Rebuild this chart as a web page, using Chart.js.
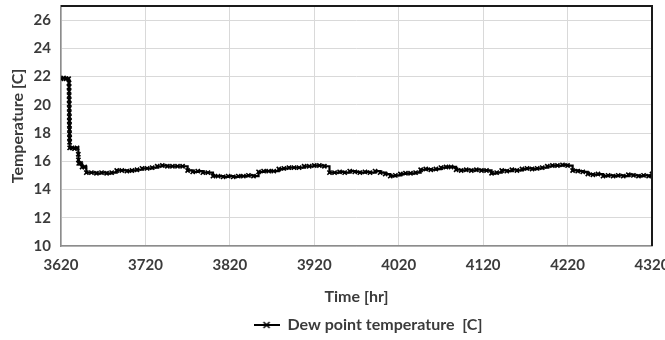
<!DOCTYPE html>
<html>
<head>
<meta charset="utf-8">
<script src="https://cdn.jsdelivr.net/npm/chart.js@4/dist/chart.umd.min.js"></script>
<style>
  html, body { margin: 0; padding: 0; background: #ffffff; }
  #wrap { width: 665px; height: 340px; }
</style>
</head>
<body>
<div id="wrap"><canvas id="dew-chart" width="665" height="340"></canvas></div>
<script>
// Time [hr] of each reading
const timeHours = [
    3620, 3623, 3626, 3629,
    3629.5, 3629.55, 3629.6, 3629.65, 3629.7, 3629.75, 3629.8, 3629.85,
    3629.9, 3629.95, 3630, 3630.05, 3630.1, 3630.15, 3630.2, 3630.25,
    3633, 3636, 3639, 3640.5, 3640.6, 3641, 3643, 3645, 3648,
    3650, 3656, 3662, 3668, 3674, 3680, 3686, 3692, 3698, 3704,
    3710, 3716, 3722, 3728, 3734, 3740, 3746, 3752, 3758, 3764,
    3770, 3776, 3782, 3788, 3794, 3800, 3806, 3812, 3818, 3824,
    3830, 3836, 3842, 3848, 3854, 3860, 3866, 3872, 3878, 3884,
    3890, 3896, 3902, 3908, 3914, 3920, 3926, 3932, 3938, 3944,
    3950, 3956, 3962, 3968, 3974, 3980, 3986, 3992, 3998, 4004,
    4010, 4016, 4022, 4028, 4034, 4040, 4046, 4052, 4058, 4064,
    4070, 4076, 4082, 4088, 4094, 4100, 4106, 4112, 4118, 4124,
    4130, 4136, 4142, 4148, 4154, 4160, 4166, 4172, 4178, 4184,
    4190, 4196, 4202, 4208, 4214, 4220, 4226, 4232, 4238, 4244,
    4250, 4256, 4262, 4268, 4274, 4280, 4286, 4292, 4298, 4304,
    4310, 4316, 4320
];

// Dew point temperature [C]
const dewPointTemp = [
    21.85, 21.9, 21.85, 21.85,
    21.55, 21.25, 20.95, 20.65, 20.35, 20.05, 19.75, 19.45,
    19.15, 18.85, 18.55, 18.25, 17.95, 17.65, 17.35, 16.95,
    16.95, 16.9, 16.95, 16.5, 16.1, 15.85, 15.85, 15.6, 15.6,
    15.2, 15.2, 15.15, 15.2, 15.15, 15.2, 15.35, 15.35, 15.3, 15.35,
    15.4, 15.5, 15.5, 15.55, 15.65, 15.7, 15.65, 15.65, 15.65, 15.65,
    15.35, 15.25, 15.3, 15.2, 15.2, 14.95, 14.95, 14.9, 14.95, 14.9,
    14.95, 14.95, 15.0, 14.95, 15.25, 15.3, 15.3, 15.3, 15.45, 15.5,
    15.55, 15.55, 15.55, 15.65, 15.65, 15.7, 15.7, 15.65, 15.2, 15.2,
    15.25, 15.2, 15.3, 15.25, 15.2, 15.25, 15.2, 15.3, 15.2, 15.1,
    14.95, 15.0, 15.1, 15.15, 15.15, 15.2, 15.4, 15.45, 15.4, 15.45,
    15.55, 15.6, 15.6, 15.4, 15.35, 15.4, 15.35, 15.4, 15.35, 15.35,
    15.15, 15.2, 15.35, 15.3, 15.4, 15.35, 15.45, 15.5, 15.45, 15.5,
    15.55, 15.65, 15.7, 15.7, 15.75, 15.7, 15.35, 15.3, 15.25, 15.1,
    15.05, 15.1, 14.95, 15.0, 14.95, 15.0, 14.95, 15.05, 15.0, 14.95,
    15.0, 14.95, 15.1
];

// Axis ranges and tick values
const xRange = [3620, 4320];
const xTicks = [3620, 3720, 3820, 3920, 4020, 4120, 4220, 4320];
const yRange = [10, 27];
const yTicks = [10, 12, 14, 16, 18, 20, 22, 24, 26];

const seriesLabel = "Dew point temperature  [C]";
const xTitle = "Time [hr]";
const yTitle = "Temperature [C]";

const textColor = "#3b3b3b";
const gridColor = "#d9d9d9";

// Marker for the legend: short line with a small x in the middle
function legendMarker() {
    const c = document.createElement("canvas");
    c.width = 26;
    c.height = 10;
    const g = c.getContext("2d");
    g.strokeStyle = "#000";
    g.lineWidth = 2;
    g.beginPath();
    g.moveTo(0, 5);
    g.lineTo(26, 5);
    g.stroke();
    g.lineWidth = 1.5;
    g.beginPath();
    g.moveTo(10, 2); g.lineTo(16, 8);
    g.moveTo(16, 2); g.lineTo(10, 8);
    g.stroke();
    return c;
}

// Top and right frame lines of the plot area
const frameBorder = {
    id: "frameBorder",
    afterDraw(chart) {
        const a = chart.chartArea;
        const ctx = chart.ctx;
        ctx.save();
        ctx.strokeStyle = "#1a1a1a";
        ctx.lineWidth = 2;
        ctx.beginPath();
        ctx.moveTo(a.left, a.top);
        ctx.lineTo(a.right, a.top);
        ctx.lineTo(a.right, a.bottom);
        ctx.stroke();
        ctx.restore();
    }
};

// Nudge the legend so it sits under the plot like in Excel
const legendShift = {
    id: "legendShift",
    afterLayout(chart) {
        if (!chart.legend) return;
        chart.legend.left += 40;
        chart.legend.right += 40;
        chart.legend.top += 3;
        chart.legend.bottom += 3;
    }
};

const points = timeHours.map((t, i) => ({ x: t, y: dewPointTemp[i] }));

const chart = new Chart(document.getElementById("dew-chart"), {
    type: "line",
    data: {
        datasets: [{
            label: seriesLabel,
            data: points,
            stepped: true,
            borderColor: "#000000",
            borderWidth: 2.2,
            pointStyle: "crossRot",
            pointRadius: 3,
            pointBorderWidth: 1.6,
            pointBorderColor: "#000000",
            pointBackgroundColor: "#000000"
        }]
    },
    options: {
        responsive: false,
        animation: false,
        layout: {
            padding: { left: 4, right: 13, top: 6, bottom: 0 }
        },
        scales: {
            x: {
                type: "linear",
                min: xRange[0],
                max: xRange[1],
                grid: { color: gridColor, lineWidth: 1, drawTicks: false },
                border: { color: "#8c8c8c", width: 1.5 },
                afterBuildTicks(scale) {
                    scale.ticks = xTicks.map(v => ({ value: v }));
                },
                ticks: {
                    padding: 10,
                    color: textColor,
                    maxRotation: 0,
                    autoSkip: false,
                    callback: v => String(v),
                    font: { family: "Lato", size: 15, weight: "bold" }
                },
                title: {
                    display: true,
                    text: xTitle,
                    color: textColor,
                    font: { family: "Lato", size: 16, weight: "bold" },
                    padding: { top: 4, bottom: 4 }
                },
                afterFit(scale) {
                    scale.height = 64;
                    scale.paddingRight = 0;
                    scale.paddingLeft = 0;
                }
            },
            y: {
                min: yRange[0],
                max: yRange[1],
                grid: { color: gridColor, lineWidth: 1, drawTicks: false },
                border: { color: "#8c8c8c", width: 1.5 },
                afterBuildTicks(scale) {
                    scale.ticks = yTicks.map(v => ({ value: v }));
                },
                ticks: {
                    padding: 10,
                    color: textColor,
                    autoSkip: false,
                    callback: v => String(v),
                    font: { family: "Lato", size: 15, weight: "bold" }
                },
                title: {
                    display: true,
                    text: yTitle,
                    color: textColor,
                    font: { family: "Lato", size: 16, weight: "bold" },
                    padding: { top: 4, bottom: 4 }
                },
                afterFit(scale) {
                    scale.width = 57;
                    scale.paddingTop = 0;
                    scale.paddingBottom = 0;
                }
            }
        },
        plugins: {
            legend: {
                position: "bottom",
                labels: {
                    usePointStyle: true,
                    pointStyle: legendMarker(),
                    pointStyleWidth: 26,
                    padding: 4,
                    color: textColor,
                    font: { family: "Lato", size: 16, weight: "bold" }
                }
            },
            tooltip: { enabled: false }
        }
    },
    plugins: [frameBorder, legendShift]
});
</script>
</body>
</html>
